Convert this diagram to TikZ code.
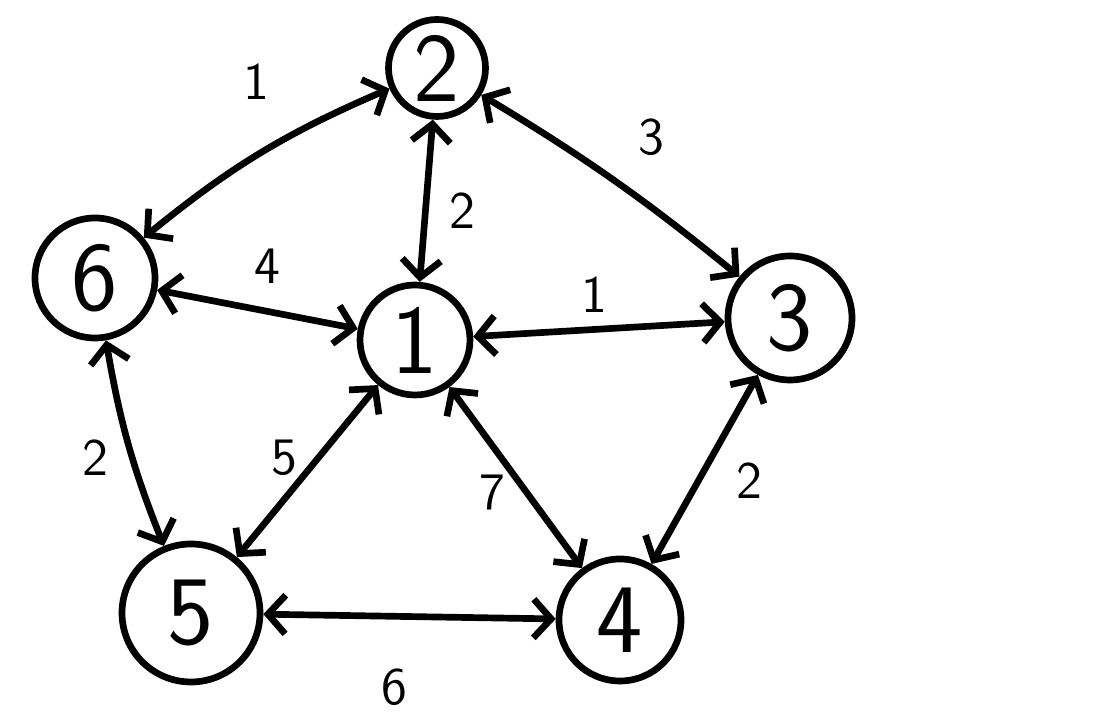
\documentclass[tikz,border=0pt]{standalone}
\usepackage{tikz}
\usetikzlibrary{arrows.meta}

\begin{document}
\begin{tikzpicture}[>={Straight Barb[length=5pt,width=11pt]},
    line width=1.9pt, line cap=round, line join=round,
    vert/.style={circle, draw, inner sep=0pt, font=\sffamily\fontsize{28}{28}\selectfont},
    wt/.style={font=\sffamily\fontsize{15}{15}\selectfont, inner sep=2pt}]
  \useasboundingbox (0,0) rectangle (11.11,7.28);
  % vertices
  \node[vert, minimum size=0.97cm] (v2) at (4.37,6.60) {2};
  \node[vert, minimum size=1.20cm] (v6) at (0.95,4.50) {6};
  \node[vert, minimum size=1.10cm] (v1) at (4.15,3.88) {1};
  \node[vert, minimum size=1.24cm] (v3) at (7.90,4.10) {3};
  \node[vert, minimum size=1.38cm] (v5) at (1.91,1.15) {5};
  \node[vert, minimum size=1.22cm] (v4) at (6.20,1.08) {4};
  % weighted edges
  \draw[<->] (v6) to[bend left=8] node[wt, pos=0.48, above=13pt] {1} (v2);
  \draw[<->] (v2) to[bend left=4] node[wt, pos=0.5, above right=4pt] {3} (v3);
  \draw[<->] (v2) -- node[wt, pos=0.56, right=4pt] {2} (v1);
  \draw[<->] (v6) -- node[wt, pos=0.55, above=5pt] {4} (v1);
  \draw[<->] (v1) -- node[wt, pos=0.48, above=2pt] {1} (v3);
  \draw[<->] (v6) to[bend right=6] node[wt, pos=0.57, left=4pt] {2} (v5);
  \draw[<->] (v1) -- node[wt, pos=0.42, left=3pt] {5} (v5);
  \draw[<->] (v1) -- node[wt, pos=0.58, left=3pt] {7} (v4);
  \draw[<->] (v3) -- node[wt, pos=0.56, right=8pt] {2} (v4);
  \draw[<->] (v5) -- node[wt, pos=0.45, below=12pt] {6} (v4);
\end{tikzpicture}
\end{document}
